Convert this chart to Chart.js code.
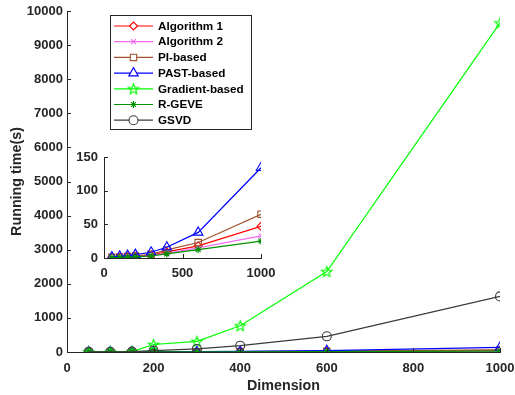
<!DOCTYPE html>
<html>
<head>
<meta charset="utf-8">
<script src="https://cdn.jsdelivr.net/npm/chart.js@4/dist/chart.umd.min.js"></script>
<style>
html, body { margin: 0; padding: 0; background: #fff; }
#wrap { position: relative; width: 515px; height: 395px; }
#main { position: absolute; left: 0; top: 0; }
#inset { position: absolute; left: 60px; top: 150px; }
</style>
</head>
<body>
<div id="wrap">
<canvas id="main" width="515" height="395"></canvas>
<canvas id="inset" width="215" height="130"></canvas>
</div>
<script>
// data
var dims = [50, 100, 150, 200, 300, 400, 600, 1000];
var names = ['Algorithm 1', 'Algorithm 2', 'PI-based', 'PAST-based', 'Gradient-based', 'R-GEVE', 'GSVD'];
var alg1 = [0.8, 1.2, 1.8, 2.5, 4.5, 9, 18, 47];
var alg2 = [0.6, 1.0, 1.5, 2.0, 3.5, 7, 15, 33];
var piBased = [1.0, 1.5, 2.2, 3.0, 5.5, 12, 23, 65];
var pastBased = [1.5, 2.5, 3.5, 5.0, 8.5, 16, 38, 134];
var gradBased = [2, 5, 10, 220, 310, 770, 2360, 9650];
var rgeve = [0.5, 0.8, 1.2, 1.8, 3.0, 6, 12.5, 25];
var gsvd = [3, 6, 12, 40, 90, 185, 460, 1630];

var mainXTicks = [0, 200, 400, 600, 800, 1000];
var mainYTicks = [0, 1000, 2000, 3000, 4000, 5000, 6000, 7000, 8000, 9000, 10000];
var insetXTicks = [0, 500, 1000];
var insetYTicks = [0, 50, 100, 150];

var axisCol = '#262626';
var fontFam = "'Liberation Sans', Arial, Helvetica, sans-serif";

// pentagram marker, like matlab 'p'
function pentagram(color, r) {
  var s = Math.ceil(r * 2 + 4);
  var c = document.createElement('canvas');
  c.width = s; c.height = s;
  var g = c.getContext('2d');
  g.strokeStyle = color;
  g.lineWidth = 1.1;
  g.beginPath();
  for (var i = 0; i < 10; i++) {
    var ang = -Math.PI / 2 + i * Math.PI / 5;
    var rr = (i % 2) ? r * 0.42 : r;
    g.lineTo(s / 2 + rr * Math.cos(ang), s / 2 + rr * Math.sin(ang) + 0.5);
  }
  g.closePath();
  g.stroke();
  return c;
}

var styles = [
  {color: '#ff0000', point: 'rectRot', r: 4},
  {color: '#f06cf0', point: 'crossRot', r: 3.5},
  {color: '#a0522d', point: 'rect', r: 4.5},
  {color: '#0000ff', point: 'triangle', r: 5.5},
  {color: '#00ff00', point: pentagram('#00ff00', 5.5), r: 5.5},
  {color: '#009000', point: 'star', r: 3.5},
  {color: '#3a3a3a', point: 'circle', r: 4.5}
];
var values = [alg1, alg2, piBased, pastBased, gradBased, rgeve, gsvd];

function makeSet(i) {
  var st = styles[i];
  return {
    label: names[i],
    data: dims.map(function(d, k) { return {x: d, y: values[i][k]}; }),
    borderColor: st.color,
    backgroundColor: 'transparent',
    pointBorderColor: st.color,
    pointBackgroundColor: 'transparent',
    pointStyle: st.point,
    pointRadius: st.r,
    pointBorderWidth: 1.1,
    borderWidth: 1.2,
    tension: 0,
    order: 6 - i
  };
}

// inward tick marks (matlab style)
var inTicks = {
  id: 'inTicks',
  afterDraw: function(chart) {
    var ctx = chart.ctx, a = chart.chartArea;
    var xs = chart.scales.x, ys = chart.scales.y;
    ctx.save();
    ctx.strokeStyle = axisCol;
    ctx.lineWidth = 1;
    ctx.beginPath();
    xs.ticks.forEach(function(t) {
      var px = Math.round(xs.getPixelForValue(t.value)) + 0.5;
      ctx.moveTo(px, a.bottom);
      ctx.lineTo(px, a.bottom - 4);
    });
    ys.ticks.forEach(function(t) {
      var py = Math.round(ys.getPixelForValue(t.value)) + 0.5;
      ctx.moveTo(a.left, py);
      ctx.lineTo(a.left + 4, py);
    });
    ctx.stroke();
    ctx.restore();
  }
};

// boxed legend with line + marker
var boxLegend = {
  id: 'boxLegend',
  afterDraw: function(chart) {
    var ctx = chart.ctx;
    ctx.save();
    ctx.fillStyle = '#fff';
    ctx.fillRect(110.5, 15.5, 141, 114);
    ctx.strokeStyle = axisCol;
    ctx.lineWidth = 1;
    ctx.strokeRect(110.5, 15.5, 141, 114);
    for (var i = 0; i < names.length; i++) {
      var y = 26 + i * 15.7;
      var st = styles[i];
      ctx.strokeStyle = st.color;
      ctx.lineWidth = 1.2;
      ctx.beginPath();
      ctx.moveTo(114, y);
      ctx.lineTo(153, y);
      ctx.stroke();
      ctx.fillStyle = '#fff';
      ctx.lineWidth = 1.1;
      Chart.helpers.drawPoint(ctx, {pointStyle: st.point, radius: st.r, rotation: 0, borderWidth: 1.1}, 133.5, y);
      ctx.fillStyle = '#000';
      ctx.font = 'bold 11.7px ' + fontFam;
      ctx.textBaseline = 'middle';
      ctx.textAlign = 'left';
      ctx.fillText(names[i], 158, y + 0.5);
    }
    ctx.restore();
  }
};

function fixTicks(arr) {
  return function(s) { s.ticks = arr.map(function(v) { return {value: v}; }); };
}
// fixed axis box sizes, and no extra room for overhanging labels
function fixX(h) {
  return function(s) { s.height = h; s.paddingLeft = 0; s.paddingRight = 0; };
}
function fixY(w) {
  return function(s) { s.width = w; s.paddingTop = 0; s.paddingBottom = 0; };
}

var tickFont = {family: fontFam, size: 13, weight: 'bold'};

new Chart(document.getElementById('main'), {
  type: 'line',
  data: { datasets: values.map(function(v, i) { return makeSet(i); }) },
  options: {
    responsive: false,
    animation: false,
    devicePixelRatio: 1,
    layout: { padding: {top: 11, right: 15, left: 0, bottom: 0} },
    plugins: { legend: {display: false}, tooltip: {enabled: false} },
    scales: {
      x: {
        type: 'linear', min: 0, max: 1000,
        afterBuildTicks: fixTicks(mainXTicks),
        afterFit: fixX(43),
        grid: {display: false, drawTicks: false},
        border: {display: true, color: axisCol, width: 1},
        ticks: {font: tickFont, color: axisCol, padding: 9, maxRotation: 0, callback: function(v) { return String(v); }},
        title: {display: true, text: 'Dimension', color: axisCol, font: {family: fontFam, size: 14.3, weight: 'bold'}, padding: {top: 0, bottom: 0}}
      },
      y: {
        type: 'linear', min: 0, max: 10000,
        afterBuildTicks: fixTicks(mainYTicks),
        afterFit: fixY(67),
        grid: {display: false, drawTicks: false},
        border: {display: true, color: axisCol, width: 1},
        ticks: {font: tickFont, color: axisCol, padding: 4, callback: function(v) { return String(v); }},
        title: {display: true, text: 'Running time(s)', color: axisCol, font: {family: fontFam, size: 14.3, weight: 'bold'}, padding: {top: 8, bottom: 0}}
      }
    }
  },
  plugins: [inTicks, boxLegend]
});

// zoomed inset: the five fast methods
var insetIdx = [0, 1, 2, 3, 5];
new Chart(document.getElementById('inset'), {
  type: 'line',
  data: { datasets: insetIdx.map(function(i) { return makeSet(i); }) },
  options: {
    responsive: false,
    animation: false,
    devicePixelRatio: 1,
    layout: { padding: {top: 7, right: 14, left: 0, bottom: 0} },
    plugins: { legend: {display: false}, tooltip: {enabled: false} },
    scales: {
      x: {
        type: 'linear', min: 0, max: 1000,
        afterBuildTicks: fixTicks(insetXTicks),
        afterFit: fixX(22),
        grid: {display: false, drawTicks: false},
        border: {display: true, color: axisCol, width: 1},
        ticks: {font: tickFont, color: axisCol, padding: 8, maxRotation: 0, callback: function(v) { return String(v); }}
      },
      y: {
        type: 'linear', min: 0, max: 150,
        afterBuildTicks: fixTicks(insetYTicks),
        afterFit: fixY(44),
        grid: {display: false, drawTicks: false},
        border: {display: true, color: axisCol, width: 1},
        ticks: {font: tickFont, color: axisCol, padding: 6, callback: function(v) { return String(v); }}
      }
    }
  },
  plugins: [inTicks]
});
</script>
</body>
</html>
